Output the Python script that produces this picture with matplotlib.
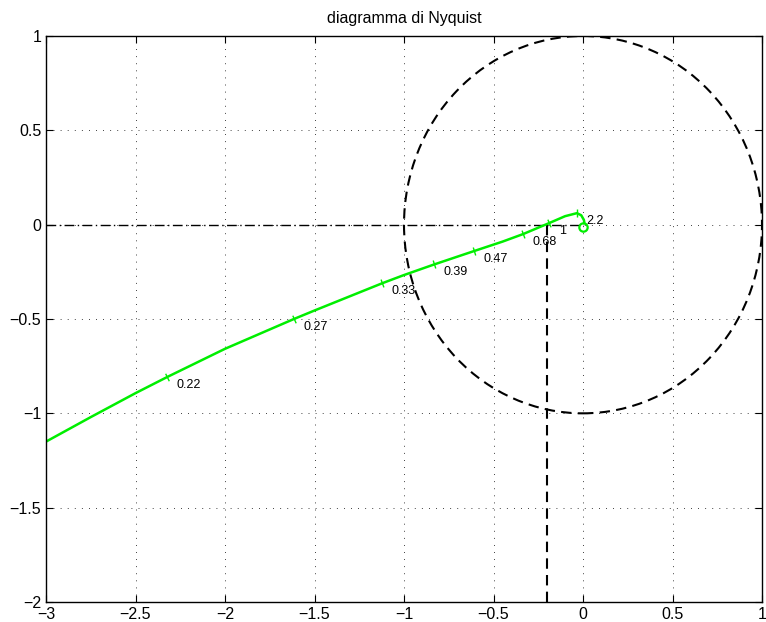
import matplotlib
matplotlib.use('Agg')
import matplotlib.pyplot as plt
from matplotlib.patches import Circle

plt.rcParams['font.family'] = ['Liberation Sans', 'DejaVu Sans']

curve_re = [-3.0, -2.75, -2.5, -2.324, -2.0, -1.615, -1.5, -1.123, -1.0,
            -0.832, -0.609, -0.45, -0.335, -0.19, -0.1, -0.034, -0.01,
            0.005, 0.008]
curve_im = [-1.15, -1.02, -0.893, -0.808, -0.658, -0.5, -0.455, -0.311,
            -0.267, -0.211, -0.14, -0.09, -0.05, 0.008, 0.045, 0.061, 0.05,
            0.025, 0.008]

# frequency markers on the curve
freq_labels = ['0.22', '0.27', '0.33', '0.39', '0.47', '0.68', '1', '2.2']
freq_re = [-2.324, -1.615, -1.123, -0.832, -0.609, -0.335, -0.19, -0.034]
freq_im = [-0.808, -0.5, -0.311, -0.211, -0.14, -0.05, 0.008, 0.061]

# end point of the curve (small ring)
end_re = 0.0
end_im = -0.012

# gain margin construction
gm_re = -0.2

xticks = [-3, -2.5, -2, -1.5, -1, -0.5, 0, 0.5, 1]
xticklabels = ['\u22123', '\u22122.5', '\u22122', '\u22121.5', '\u22121',
               '\u22120.5', '0', '0.5', '1']
yticks = [-2, -1.5, -1, -0.5, 0, 0.5, 1]
yticklabels = ['\u22122', '\u22121.5', '\u22121', '\u22120.5', '0', '0.5', '1']

# tilt of the little tick marks (deg), follows the curve direction
tick_angles = [26, 24, 20, 18, 17, 20, 23, 0]

fig = plt.figure(figsize=(7.66, 6.22), dpi=100)
ax = fig.add_axes([46 / 766, 20 / 622, 716 / 766, 566 / 622])

ax.plot([-3, 0], [0, 0], color='k', lw=1.0, dashes=(7, 2.5, 1, 2.5))
ax.plot([gm_re, gm_re], [0, -2], color='k', lw=1.5, dashes=(5, 3))
ax.add_patch(Circle((0, 0), 1, fill=False, ec='k', ls=(0, (5, 3)), lw=1.5))

ax.plot(curve_re, curve_im, color='#00ee00', lw=1.8)
for x, y, a, s in zip(freq_re, freq_im, tick_angles, freq_labels):
    ax.plot(x, y, marker=(2, 0, a), ms=6, mew=1.0, color='#00ee00')
    ax.text(x + 0.055, y - 0.04, s, fontsize=9, ha='left', va='center')

ax.plot(end_re, end_im, marker='o', ms=6, mfc='none', mec='#00ee00', mew=1.6)

ax.set_xlim(-3, 1)
ax.set_ylim(-2, 1)
ax.set_xticks(xticks)
ax.set_xticklabels(xticklabels)
ax.set_yticks(yticks)
ax.set_yticklabels(yticklabels)
ax.tick_params(direction='in', length=5, width=0.8, top=True, right=True,
               labelsize=11.5)
ax.tick_params(axis='x', pad=3.5)
ax.tick_params(axis='y', pad=3.5)
ax.grid(True, color='k', ls=(0, (1, 7.5)), lw=0.6)
for sp in ax.spines.values():
    sp.set_linewidth(1.0)

ax.set_title('diagramma di Nyquist', fontsize=11.5, pad=9)

fig.savefig('out.png', dpi=100)
